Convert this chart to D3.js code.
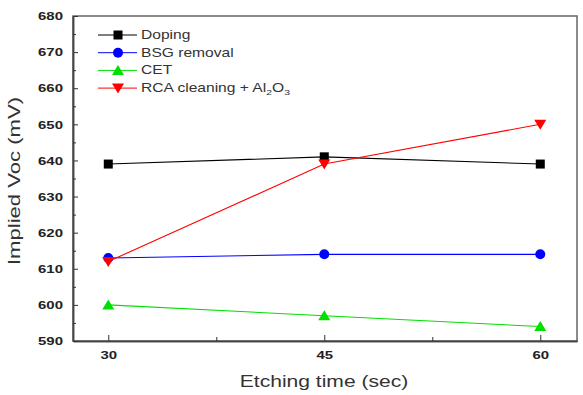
<!DOCTYPE html>
<html>
<head>
<meta charset="utf-8">
<script src="https://cdn.jsdelivr.net/npm/d3@7"></script>
<style>
  body { margin: 0; background: #fff; }
  svg { font-family: "Liberation Sans", Arial, sans-serif; }
</style>
</head>
<body>
<svg id="chart" width="583" height="395"></svg>
<script>
//Data
var times = [30, 45, 60];
var doping = [639, 641, 639];
var bsgRemoval = [613, 614, 614];
var cet = [600, 597, 594];
var rcaCleaning = [612, 639, 650];
var yTicks = [590, 600, 610, 620, 630, 640, 650, 660, 670, 680];

var seriesList = [
  {name: "Doping", values: doping, color: "#000000", shape: "square"},
  {name: "BSG removal", values: bsgRemoval, color: "#0000ff", shape: "circle"},
  {name: "CET", values: cet, color: "#00e000", shape: "triangle"},
  {name: "RCA", values: rcaCleaning, color: "#ff0000", shape: "down"}
];

//Dimensions
var margin = {left: 73, right: 6, top: 16, bottom: 54};
var width = 583, height = 395;
var textStretch = 1.3; //reference glyphs are wider than Arial
var svg = d3.select("#chart");

var x = d3.scaleLinear().domain([27.55, 62.55]).range([margin.left, width - margin.right]);
var y = d3.scaleLinear().domain([590, 680]).range([height - margin.bottom, margin.top]);

//widen text horizontally around its anchor point
function stretch(sel, s){
  sel.each(function(){
    var t = d3.select(this);
    var tx = +t.attr("x") || 0, ty = +t.attr("y") || 0;
    var old = t.attr("transform") || "";
    t.attr("x", 0).attr("y", 0).attr("transform", old + " translate(" + tx + "," + ty + ") scale(" + s + ",1)");
  });
}

//frame (top and right in grey)
svg.append("rect")
  .attr("x", margin.left).attr("y", margin.top)
  .attr("width", width - margin.right - margin.left)
  .attr("height", height - margin.bottom - margin.top)
  .attr("fill", "none").attr("stroke", "#666").attr("stroke-width", 1.5);

//axes
var xAxis = d3.axisBottom(x).tickValues(times).tickSizeInner(-6).tickSizeOuter(0).tickPadding(10).tickFormat(d3.format("d"));
var xMinor = d3.axisBottom(x).tickValues([37.5, 52.5]).tickSizeInner(-4).tickSizeOuter(0).tickFormat("");
var yAxis = d3.axisLeft(y).tickValues(yTicks).tickSizeInner(-5).tickSizeOuter(0).tickPadding(10).tickFormat(d3.format("d"));
var yMinor = d3.axisLeft(y).tickValues(d3.range(595, 680, 10)).tickSizeInner(-3).tickSizeOuter(0).tickFormat("");

function styleAxis(g){
  g.select(".domain").attr("stroke", "#444").attr("stroke-width", 1.5);
  g.selectAll(".tick line").attr("stroke", "#333");
  g.selectAll("text").attr("font-size", 11.5).attr("font-weight", "bold").attr("fill", "#222");
}

var gx = svg.append("g").attr("transform", "translate(0," + (height - margin.bottom) + ")").call(xAxis);
svg.append("g").attr("transform", "translate(0," + (height - margin.bottom) + ")").call(xMinor).call(styleAxis);
styleAxis(gx);
stretch(gx.selectAll(".tick text"), textStretch);
var gy = svg.append("g").attr("transform", "translate(" + margin.left + ",0)").call(yAxis);
svg.append("g").attr("transform", "translate(" + margin.left + ",0)").call(yMinor).call(styleAxis);
styleAxis(gy);
stretch(gy.selectAll(".tick text"), textStretch);

//axis titles
svg.append("text").attr("x", 324).attr("y", 387).attr("text-anchor", "middle")
  .attr("font-size", 17).attr("fill", "#333").text("Etching time (sec)")
  .call(stretch, 1.24);
svg.append("text").attr("transform", "translate(20,181) rotate(-90)")
  .attr("text-anchor", "middle").attr("font-size", 17).attr("fill", "#333").text("Implied Voc (mV)")
  .call(stretch, 1.3);

//marker drawing
function drawMarker(g, shape, color, cx, cy){
  if (shape == "square"){
    g.append("rect").attr("x", cx - 4.5).attr("y", cy - 4.5).attr("width", 9).attr("height", 9).attr("fill", color);
  } else if (shape == "circle"){
    g.append("circle").attr("cx", cx).attr("cy", cy).attr("r", 5).attr("fill", color);
  } else if (shape == "triangle"){
    g.append("path").attr("d", "M" + cx + "," + (cy - 5.5) + "L" + (cx + 6) + "," + (cy + 4.5) + "L" + (cx - 6) + "," + (cy + 4.5) + "Z").attr("fill", color);
  } else {
    g.append("path").attr("d", "M" + cx + "," + (cy + 5.5) + "L" + (cx + 6) + "," + (cy - 4.5) + "L" + (cx - 6) + "," + (cy - 4.5) + "Z").attr("fill", color);
  }
}

var line = d3.line().x(function(d){return x(d[0]);}).y(function(d){return y(d[1]);});

seriesList.forEach(function(s){
  var pts = times.map(function(t, i){return [t, s.values[i]];});
  svg.append("path").attr("d", line(pts)).attr("fill", "none").attr("stroke", s.color).attr("stroke-width", 1.1);
});
seriesList.forEach(function(s){
  var g = svg.append("g");
  times.forEach(function(t, i){ drawMarker(g, s.shape, s.color, x(t), y(s.values[i])); });
});

//legend
var legendX = 98, legendY = 35, legendStep = 17.7;
seriesList.forEach(function(s, i){
  var ly = legendY + i * legendStep;
  var g = svg.append("g");
  g.append("line").attr("x1", legendX).attr("x2", legendX + 39).attr("y1", ly).attr("y2", ly)
    .attr("stroke", s.color).attr("stroke-width", 1);
  drawMarker(g, s.shape, s.color, legendX + 20, ly);
  var t = g.append("text").attr("x", legendX + 43).attr("y", ly + 4).attr("font-size", 12).attr("fill", "#333");
  if (i < 3){
    t.text(s.name);
  } else {
    t.append("tspan").text("RCA cleaning + Al");
    t.append("tspan").attr("font-size", 8).attr("dy", 3).text("2");
    t.append("tspan").attr("dy", -3).text("O");
    t.append("tspan").attr("font-size", 8).attr("dy", 3).text("3");
  }
  stretch(t, textStretch);
});
</script>
</body>
</html>
